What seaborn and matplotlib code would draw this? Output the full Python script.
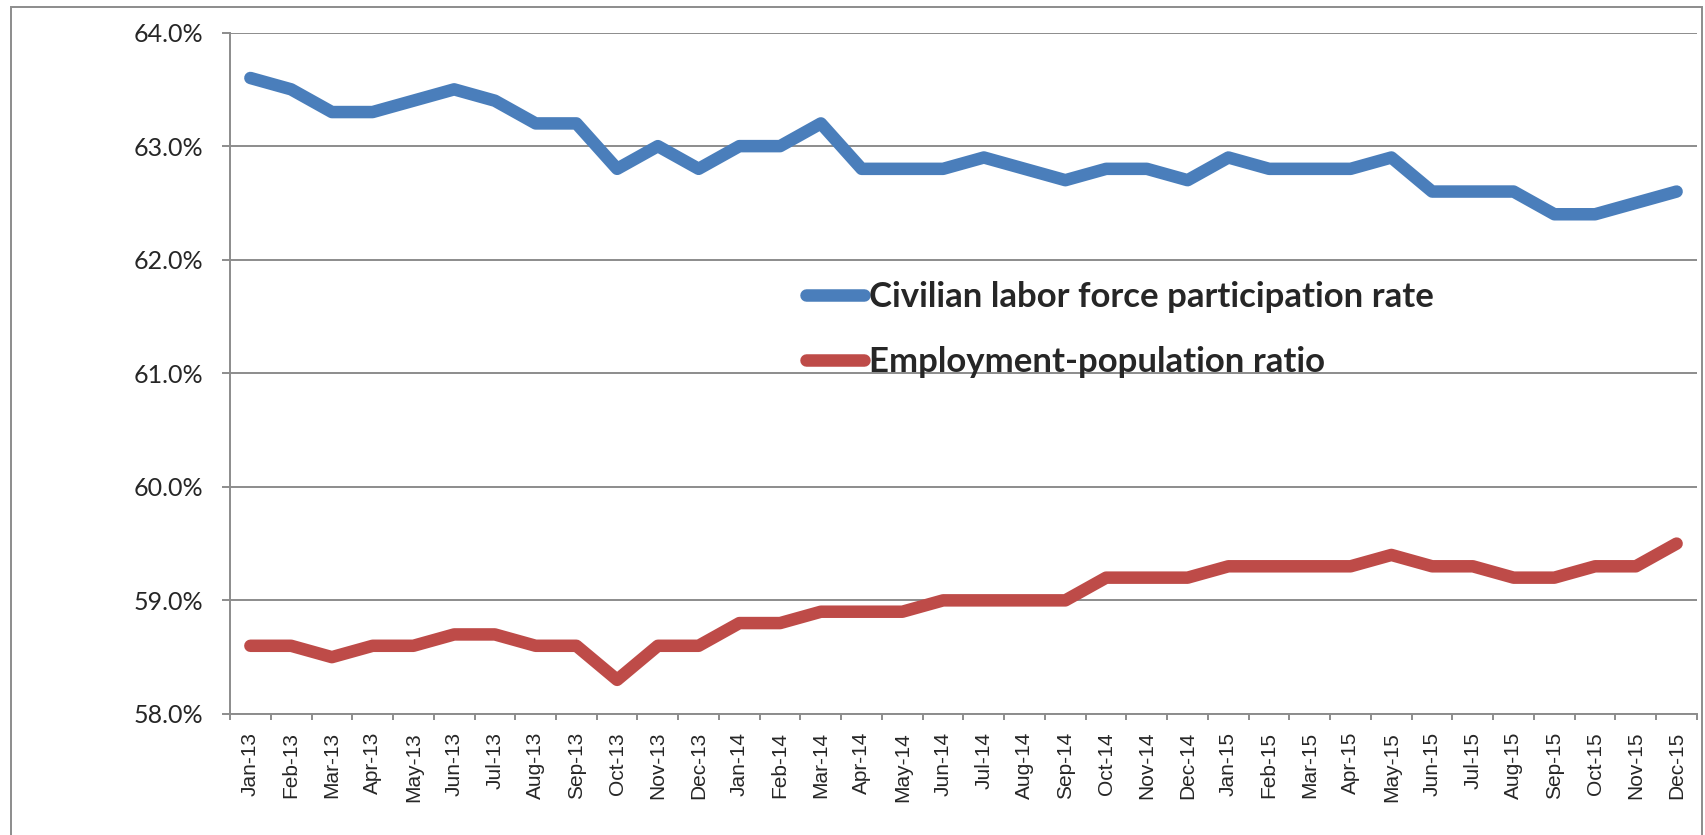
import matplotlib
matplotlib.use('Agg')
import matplotlib.pyplot as plt
import pandas as pd
import seaborn as sns
from matplotlib.patches import Rectangle
from matplotlib.ticker import FuncFormatter, FixedLocator

months = ['Jan-13', 'Feb-13', 'Mar-13', 'Apr-13', 'May-13', 'Jun-13',
          'Jul-13', 'Aug-13', 'Sep-13', 'Oct-13', 'Nov-13', 'Dec-13',
          'Jan-14', 'Feb-14', 'Mar-14', 'Apr-14', 'May-14', 'Jun-14',
          'Jul-14', 'Aug-14', 'Sep-14', 'Oct-14', 'Nov-14', 'Dec-14',
          'Jan-15', 'Feb-15', 'Mar-15', 'Apr-15', 'May-15', 'Jun-15',
          'Jul-15', 'Aug-15', 'Sep-15', 'Oct-15', 'Nov-15', 'Dec-15']

participation = [63.6, 63.5, 63.3, 63.3, 63.4, 63.5, 63.4, 63.2, 63.2, 62.8, 63.0, 62.8,
                 63.0, 63.0, 63.2, 62.8, 62.8, 62.8, 62.9, 62.8, 62.7, 62.8, 62.8, 62.7,
                 62.9, 62.8, 62.8, 62.8, 62.9, 62.6, 62.6, 62.6, 62.4, 62.4, 62.5, 62.6]

employment = [58.6, 58.6, 58.5, 58.6, 58.6, 58.7, 58.7, 58.6, 58.6, 58.3, 58.6, 58.6,
              58.8, 58.8, 58.9, 58.9, 58.9, 59.0, 59.0, 59.0, 59.0, 59.2, 59.2, 59.2,
              59.3, 59.3, 59.3, 59.3, 59.4, 59.3, 59.3, 59.2, 59.2, 59.3, 59.3, 59.5]

series_names = ['Civilian labor force participation rate', 'Employment-population ratio']
colors = ['#4A7EBB', '#BE4B48']

df = pd.concat([
    pd.DataFrame({'month': months, 'rate': participation, 'series': series_names[0]}),
    pd.DataFrame({'month': months, 'rate': employment, 'series': series_names[1]}),
])

sns.set_style('white')
plt.rcParams['font.family'] = ['Lato', 'DejaVu Sans']
grid_color = '#8C8C8C'

fig = plt.figure(figsize=(17.05, 8.35), dpi=100)
ax = fig.add_axes([0.1349, 0.145, 0.9953 - 0.1349, 0.961 - 0.145])

sns.lineplot(data=df, x='month', y='rate', hue='series', palette=colors,
             linewidth=9, sort=False, ax=ax, legend=False,
             solid_capstyle='round', solid_joinstyle='round')

n = len(months)
ax.set_xlim(-0.5, n - 0.5)
ax.set_ylim(58.0, 64.0)
ax.set_yticks([58, 59, 60, 61, 62, 63, 64])
ax.yaxis.set_major_formatter(FuncFormatter(lambda v, p: f'{v:.1f}%'))
ax.grid(axis='y', color=grid_color, linewidth=1.4)
ax.grid(axis='x', visible=False)
ax.set_axisbelow(True)
ax.set_xlabel('')
ax.set_ylabel('')

for side in ['top', 'right']:
    ax.spines[side].set_visible(False)
for side in ['left', 'bottom']:
    ax.spines[side].set_color(grid_color)
    ax.spines[side].set_linewidth(1.4)

ax.tick_params(axis='y', left=True, length=6, width=1.4, color=grid_color,
               pad=13, labelsize=18)
ax.set_xticks(range(n))
ax.set_xticklabels(months, rotation=90, fontsize=15, family='Liberation Sans')
ax.tick_params(axis='x', which='major', length=0, pad=13)
ax.xaxis.set_minor_locator(FixedLocator([i - 0.5 for i in range(n + 1)]))
ax.tick_params(axis='x', which='minor', bottom=True, length=4, width=1.4,
               color=grid_color)

handles = [plt.Line2D([], [], color=c, linewidth=9, solid_capstyle='round')
           for c in colors]
ax.legend(handles, series_names, loc='upper left',
          bbox_to_anchor=(0.473, 0.663), bbox_transform=fig.transFigure,
          frameon=False, prop={'family': 'Lato', 'weight': 'bold', 'size': 25},
          handlelength=1.65, handletextpad=0.15, labelspacing=0.95,
          borderpad=0, borderaxespad=0)

fig.patches.append(Rectangle((0.0065, -0.02), 0.9915, 1.0116, transform=fig.transFigure,
                             fill=False, edgecolor=grid_color, linewidth=1.4))

fig.savefig('out.png', dpi=100, facecolor='white')
